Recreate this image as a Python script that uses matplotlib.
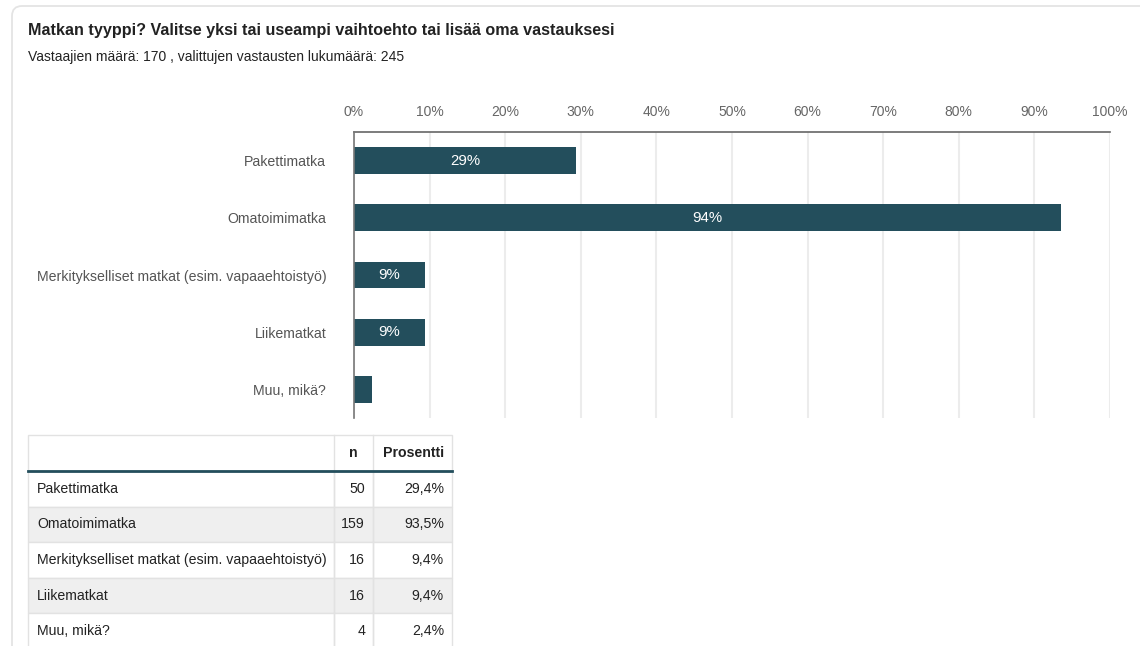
import matplotlib.pyplot as plt
from matplotlib.patches import Rectangle, FancyBboxPatch

plt.rcParams["font.family"] = ["Liberation Sans", "DejaVu Sans"]

title = "Matkan tyyppi? Valitse yksi tai useampi vaihtoehto tai lisää oma vastauksesi"
subtitle = "Vastaajien määrä: 170 , valittujen vastausten lukumäärä: 245"

categories = [
    "Pakettimatka",
    "Omatoimimatka",
    "Merkitykselliset matkat (esim. vapaaehtoistyö)",
    "Liikematkat",
    "Muu, mikä?",
]
counts = [50, 159, 16, 16, 4]
percents = [29.4, 93.5, 9.4, 9.4, 2.4]
xticks = list(range(0, 101, 10))

BAR = "#234e5c"
W, H = 1140, 646

fig = plt.figure(figsize=(W / 100, H / 100), dpi=100)

# overlay in pixel coords for the card, titles and table
bg = fig.add_axes([0, 0, 1, 1])
bg.set_xlim(0, W)
bg.set_ylim(H, 0)
bg.axis("off")
bg.add_patch(FancyBboxPatch((12, 6), W + 40, H + 40,
                            boxstyle="round,pad=0,rounding_size=10",
                            fc="white", ec="#e4e4e4", lw=1.3))
bg.text(28, 30, title, fontsize=11.6, fontweight="bold", color="#222222", va="center")
bg.text(28, 57, subtitle, fontsize=10, color="#222222", va="center")

# bar chart
ax = fig.add_axes([354 / W, 1 - 418 / H, (1110 - 354) / W, (418 - 132) / H])
y = list(range(len(categories)))
ax.barh(y, percents, height=0.47, color=BAR, zorder=3)
ax.set_xlim(0, 100)
ax.set_ylim(len(categories) - 0.5, -0.5)
ax.set_xticks(xticks)
ax.set_xticklabels([f"{t}%" for t in xticks])
ax.xaxis.tick_top()
ax.tick_params(axis="x", length=0, pad=9, labelsize=10, labelcolor="#666666")
ax.set_yticks(y)
ax.set_yticklabels(categories)
ax.tick_params(axis="y", length=0, pad=20, labelsize=10.2, labelcolor="#555555")
ax.grid(axis="x", color="#ececec", lw=1.5, zorder=0)
for s in ["right", "bottom"]:
    ax.spines[s].set_visible(False)
ax.spines["top"].set_color("#666666")
ax.spines["top"].set_linewidth(1.2)
ax.spines["left"].set_color("#777777")
ax.spines["left"].set_linewidth(1.2)
ax.spines["left"].set_zorder(4)
for yi, p in zip(y, percents):
    if p >= 5:
        ax.text(p / 2, yi, f"{round(p)}%", color="white", fontsize=10.8,
                ha="center", va="center", zorder=5)

# table
cols_x = [28, 334, 373, 452]
header_top, header_bot = 435, 471
row_h = 35.6
grid_c = "#e2e2e2"
fs = 10.2

bg.add_patch(Rectangle((cols_x[0], header_top), cols_x[-1] - cols_x[0], header_bot - header_top,
                       fc="white", ec=grid_c, lw=1))
for cx in cols_x[1:-1]:
    bg.plot([cx, cx], [header_top, H + 5], color=grid_c, lw=1)
bg.text((cols_x[1] + cols_x[2]) / 2, 453, "n", fontsize=fs, fontweight="bold",
        ha="center", va="center", color="#222222")
bg.text(cols_x[3] - 8, 453, "Prosentti", fontsize=fs, fontweight="bold",
        ha="right", va="center", color="#222222")

for i, (cat, n, p) in enumerate(zip(categories, counts, percents)):
    top = header_bot + i * row_h
    fc = "#efefef" if i % 2 == 1 else "white"
    bg.add_patch(Rectangle((cols_x[0], top), cols_x[-1] - cols_x[0], row_h,
                           fc=fc, ec=grid_c, lw=1, zorder=1))
    yc = top + row_h / 2
    bg.text(cols_x[0] + 9, yc, cat, fontsize=fs, va="center", color="#222222", zorder=3)
    bg.text(cols_x[2] - 8, yc, str(n), fontsize=fs, va="center", ha="right",
            color="#222222", zorder=3)
    bg.text(cols_x[3] - 8, yc, f"{p:.1f}%".replace(".", ","), fontsize=fs, va="center",
            ha="right", color="#222222", zorder=3)
for cx in cols_x[1:-1]:
    bg.plot([cx, cx], [header_bot, H + 5], color=grid_c, lw=1, zorder=2)
bg.plot([cols_x[0], cols_x[-1]], [header_bot, header_bot], color=BAR, lw=2, zorder=4)

fig.savefig("out.png", dpi=100)
